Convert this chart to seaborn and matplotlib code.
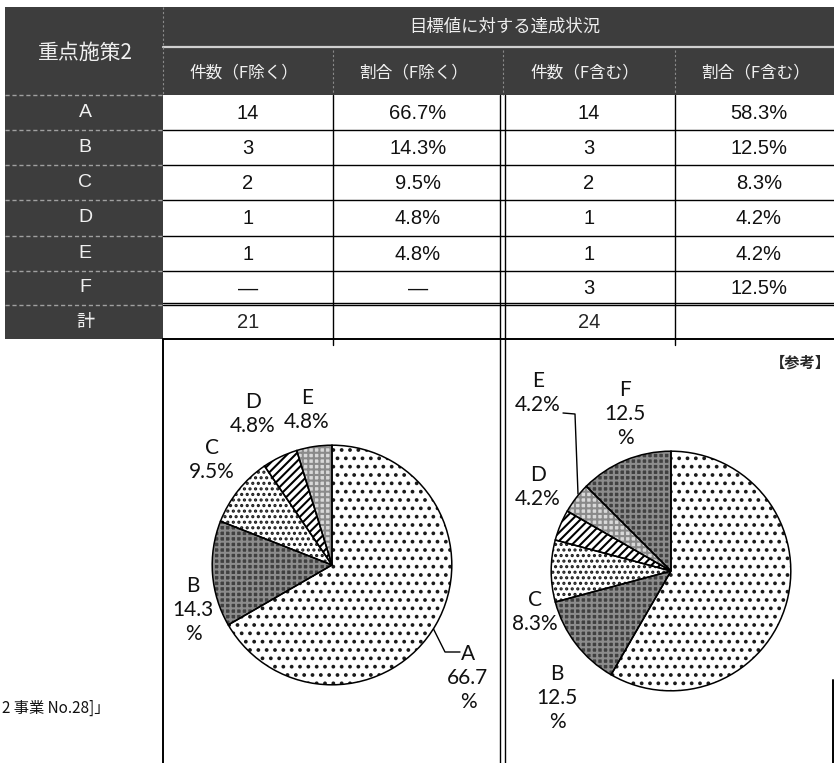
import numpy as np
import pandas as pd
import seaborn as sns
import matplotlib.pyplot as plt

sns.set_theme(style="white")
plt.rcParams['font.family'] = ['Noto Sans CJK JP', 'DejaVu Sans']
plt.rcParams['hatch.linewidth'] = 1.5

# ---- data ----
categories = ["A", "B", "C", "D", "E", "F"]
count_excl = ["14", "3", "2", "1", "1", "—"]
pct_excl = ["66.7%", "14.3%", "9.5%", "4.8%", "4.8%", "—"]
count_incl = ["14", "3", "2", "1", "1", "3"]
pct_incl = ["58.3%", "12.5%", "8.3%", "4.2%", "4.2%", "12.5%"]
total_excl = "21"
total_incl = "24"
pie_excl = [14, 3, 2, 1, 1]
pie_excl_pct = ["66.7", "14.3", "9.5", "4.8", "4.8"]
pie_incl = [14, 3, 2, 1, 1, 3]
pie_incl_pct = ["58.3", "12.5", "8.3", "4.2", "4.2", "12.5"]
col_headers = ["件数（F除く）", "割合（F除く）", "件数（F含む）", "割合（F含む）"]

# ---- layout (pixels) ----
W, H = 834, 763
col_x = [163, 333, 503, 675, 845]
row_y = [95, 130, 165, 200, 236, 271, 305, 339]
dark = "#3d3d3d"
num_font = "Liberation Sans"
lab_font = "Lato"

styles = {
    "A": dict(face="white", hatch="..", hc="#1a1a1a"),
    "B": dict(face="#404040", hatch="+++", hc="#8c8c8c"),
    "C": dict(face="white", hatch="...", hc="#1a1a1a"),
    "D": dict(face="white", hatch="////", hc="black"),
    "E": dict(face="#d9d9d9", hatch="+++", hc="#8a8a8a"),
    "F": dict(face="#404040", hatch="+++", hc="#8c8c8c"),
}

fig = plt.figure(figsize=(W / 100, H / 100), dpi=100)
bg = fig.add_axes([0, 0, 1, 1])
bg.set_xlim(0, W)
bg.set_ylim(H, 0)
bg.axis("off")

# header block
bg.fill_between([5, W], 7, row_y[0], color=dark, lw=0)
bg.fill_between([5, col_x[0]], row_y[0], row_y[-1], color=dark, lw=0)
bg.plot([col_x[0], W], [47, 47], color="#d0d0d0", lw=1.6)
for x in col_x[1:4]:
    bg.plot([x, x], [50, row_y[0]], color="#8a8a8a", lw=0.8, ls=(0, (2, 2)))
bg.plot([col_x[0], col_x[0]], [7, row_y[0]], color="#8a8a8a", lw=0.8, ls=(0, (2, 2)))
for y in row_y[:-1]:
    bg.plot([5, col_x[0]], [y, y], color="#a0a0a0", lw=1.0, ls=(0, (3, 2)))

bg.text(85, 53, "重点施策2", color="#f0f0f0", fontsize=15, ha="center", va="center")
bg.text(505, 27, "目標値に対する達成状況", color="#f0f0f0", fontsize=12.5, ha="center", va="center")
for i, h in enumerate(col_headers):
    bg.text((col_x[i] + col_x[i + 1]) / 2 - 4, 73, h, color="#f0f0f0",
            fontsize=12, ha="center", va="center")

# body grid
for y in row_y[1:-1]:
    bg.plot([col_x[0], W], [y, y], color="black", lw=1.0)
bg.plot([col_x[0], W], [row_y[-2] - 2, row_y[-2] - 2], color="black", lw=1.0)
bg.plot([col_x[0], W], [row_y[-1], row_y[-1]], color="black", lw=1.4)
for x in [col_x[1], col_x[3]]:
    bg.plot([x, x], [row_y[0], row_y[-1] + 6], color="black", lw=1.0)
for x in [col_x[2] - 3, col_x[2] + 2]:
    bg.plot([x, x], [row_y[0], H], color="black", lw=1.0)
bg.plot([col_x[0], col_x[0]], [row_y[-1], H], color="black", lw=1.4)
bg.plot([833, 833], [680, H], color="black", lw=1.4)

centers = [(col_x[i] + col_x[i + 1]) / 2 for i in range(4)]
centers[3] = 759
for r, cat in enumerate(categories):
    yc = (row_y[r] + row_y[r + 1]) / 2
    bg.text(85, yc, cat, color="#f0f0f0", fontsize=14, ha="center", va="center",
            family=num_font)
    for c, vals in enumerate([count_excl, pct_excl, count_incl, pct_incl]):
        bg.text(centers[c], yc + 1, vals[r], fontsize=14.5, ha="center", va="center",
                family=num_font, color="#111111")
yc = (row_y[-2] + row_y[-1]) / 2
bg.text(85, yc, "計", color="#f0f0f0", fontsize=13, ha="center", va="center")
bg.text(centers[0], yc + 1, total_excl, fontsize=14.5, ha="center", va="center", family=num_font)
bg.text(centers[2], yc + 1, total_incl, fontsize=14.5, ha="center", va="center", family=num_font)

bg.text(2, 708, "2 事業 No.28]」", fontsize=11, ha="left", va="center", color="#111111")
bg.text(831, 363, "【参考】", fontsize=11, ha="right", va="center", fontweight="bold")


def draw_pie(cx, cy, r, values, cats):
    ax = fig.add_axes([(cx - r) / W, (H - cy - r) / H, 2 * r / W, 2 * r / H])
    wedges, _ = ax.pie(values, startangle=90, counterclock=False,
                       wedgeprops=dict(linewidth=0))
    for w, c in zip(wedges, cats):
        s = styles[c]
        w.set_facecolor(s["face"])
        w.set_edgecolor(s["hc"])
        w.set_hatch(s["hatch"])
        w.set_linewidth(0)
    ax.pie(values, startangle=90, counterclock=False,
           wedgeprops=dict(fill=False, edgecolor="black", linewidth=1.1))
    ax.set_xlim(-1.01, 1.01)
    ax.set_ylim(-1.01, 1.01)
    return ax


draw_pie(332, 565, 121, pie_excl, categories[:5])
draw_pie(671, 571, 121, pie_incl, categories)

# pie labels: (x, y, split percent onto its own line)
left_pos = [(468, 678, True), (193, 610, True), (212, 460, False),
            (253, 414, False), (307, 410, False)]
right_pos = [(752, 604, True), (557, 698, True), (535, 612, False),
             (538, 487, False), (538, 393, False), (625, 414, True)]


def put_labels(cats, pcts, pos):
    for cat, p, (x, y, split) in zip(cats, pcts, pos):
        txt = f"{cat}\n{p}\n%" if split else f"{cat}\n{p}%"
        bg.text(x, y, txt, fontsize=15, family=lab_font, ha="center", va="center",
                linespacing=1.25, color="#111111")


put_labels(categories[:5], pie_excl_pct, left_pos)
put_labels(categories, pie_incl_pct, right_pos)

# leader lines
bg.plot([433, 445, 460], [628, 652, 652], color="black", lw=1.0)
bg.plot([563, 575, 578], [413, 414, 494], color="black", lw=1.0)

fig.savefig("out.png", dpi=100)
